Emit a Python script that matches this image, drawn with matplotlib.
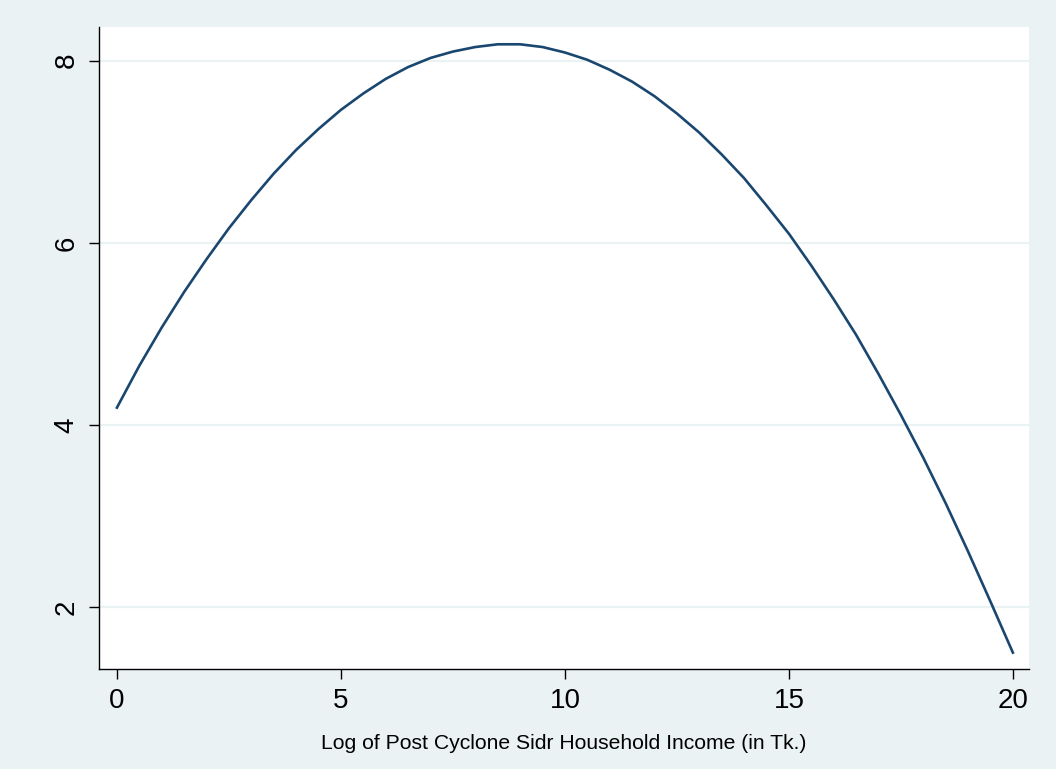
import matplotlib
matplotlib.use("Agg")
import matplotlib.pyplot as plt

# Valeurs (pas de 0.5)
income_log = [0, 0.5, 1, 1.5, 2, 2.5, 3, 3.5, 4, 4.5, 5, 5.5, 6, 6.5, 7, 7.5,
              8, 8.5, 9, 9.5, 10, 10.5, 11, 11.5, 12, 12.5, 13, 13.5, 14, 14.5,
              15, 15.5, 16, 16.5, 17, 17.5, 18, 18.5, 19, 19.5, 20]
fitted = [4.19, 4.65, 5.07, 5.46, 5.82, 6.16, 6.47, 6.76, 7.02, 7.25, 7.46,
          7.64, 7.80, 7.93, 8.03, 8.10, 8.15, 8.18, 8.18, 8.15, 8.09, 8.01,
          7.90, 7.77, 7.61, 7.42, 7.21, 6.97, 6.71, 6.41, 6.10, 5.75, 5.38,
          4.99, 4.56, 4.11, 3.64, 3.14, 2.61, 2.06, 1.50]

x_ticks = [0, 5, 10, 15, 20]
y_ticks = [2, 4, 6, 8]
x_label = "Log of Post Cyclone Sidr Household Income (in Tk.)"

bg = "#EAF2F3"
navy = "#1A476F"

plt.rcParams['font.family'] = ['Liberation Sans', 'DejaVu Sans']

fig = plt.figure(figsize=(10.56, 7.69), dpi=100, facecolor=bg)
ax = fig.add_axes([0.09375, 0.1300, 0.8807, 0.8349])
ax.set_facecolor("white")

ax.plot(income_log, fitted, color=navy, linewidth=1.9, solid_joinstyle='round', zorder=3)

ax.set_xlim(-0.40, 20.36)
ax.set_ylim(1.32, 8.37)
ax.set_xticks(x_ticks)
ax.set_yticks(y_ticks)
ax.yaxis.grid(True, color=bg, linewidth=1.6)
ax.set_axisbelow(True)

for s in ['top', 'right']:
    ax.spines[s].set_visible(False)
for s in ['left', 'bottom']:
    ax.spines[s].set_color('black')
    ax.spines[s].set_linewidth(1.0)

ax.tick_params(axis='both', direction='out', length=7, width=1.0, color='black',
               labelsize=20, pad=7)
for lab in ax.get_yticklabels():
    lab.set_rotation(90)
    lab.set_va('center')

ax.set_xlabel(x_label, fontsize=15.2, labelpad=14)

fig.savefig("out.png", dpi=100, facecolor=bg)
